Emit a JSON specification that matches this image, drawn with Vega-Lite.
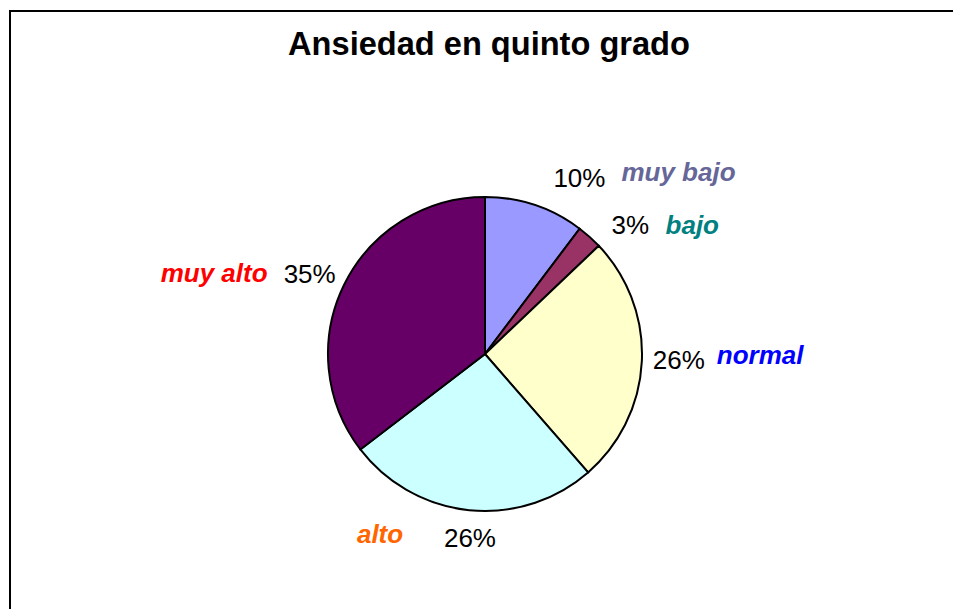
{
  "$schema": "https://vega.github.io/schema/vega-lite/v6.json",
  "width": 950,
  "height": 686,
  "autosize": {"type": "none"},
  "padding": {"left": 10, "top": 11, "right": -7, "bottom": -88},
  "view": {"stroke": "#000000", "strokeWidth": 2, "fill": "#FFFFFF"},
  "title": {
    "text": "Ansiedad en quinto grado",
    "font": "Liberation Sans",
    "fontSize": 32.6,
    "fontWeight": "bold",
    "color": "#000000",
    "anchor": "middle",
    "frame": "group",
    "baseline": "alphabetic",
    "offset": -77,
    "dx": 4
  },
  "config": {
    "view": {"stroke": "#000000", "strokeWidth": 2},
    "text": {"font": "Liberation Sans"}
  },
  "data": {
    "values": [
      {"categoria": "muy bajo", "porcentaje": 10.3, "etiqueta": "10%", "orden": 1},
      {"categoria": "bajo", "porcentaje": 2.6, "etiqueta": "3%", "orden": 2},
      {"categoria": "normal", "porcentaje": 25.7, "etiqueta": "26%", "orden": 3},
      {"categoria": "alto", "porcentaje": 26.0, "etiqueta": "26%", "orden": 4},
      {"categoria": "muy alto", "porcentaje": 35.4, "etiqueta": "35%", "orden": 5}
    ]
  },
  "encoding": {
    "theta": {"field": "porcentaje", "type": "quantitative", "stack": true},
    "order": {"field": "orden", "type": "quantitative"}
  },
  "layer": [
    {
      "mark": {"type": "arc", "outerRadius": 157, "stroke": "#000000", "strokeWidth": 2},
      "encoding": {
        "color": {
          "field": "categoria",
          "type": "nominal",
          "scale": {
            "domain": ["muy bajo", "bajo", "normal", "alto", "muy alto"],
            "range": ["#9999FF", "#993366", "#FFFFCC", "#CCFFFF", "#660066"]
          },
          "legend": null
        }
      }
    },
    {
      "mark": {"type": "text", "radius": 190, "align": "left", "baseline": "alphabetic", "fontSize": 26, "color": "#000000", "dx": 8, "dy": 13},
      "encoding": {"text": {"condition": {"test": "datum.categoria === 'muy bajo'", "field": "etiqueta"}, "value": ""}}
    },
    {
      "mark": {"type": "text", "radius": 190, "align": "left", "baseline": "alphabetic", "fontSize": 26, "color": "#000000", "dx": 0, "dy": 22},
      "encoding": {"text": {"condition": {"test": "datum.categoria === 'bajo'", "field": "etiqueta"}, "value": ""}}
    },
    {
      "mark": {"type": "text", "radius": 190, "align": "left", "baseline": "alphabetic", "fontSize": 26, "color": "#000000", "dx": -22, "dy": 6},
      "encoding": {"text": {"condition": {"test": "datum.categoria === 'normal'", "field": "etiqueta"}, "value": ""}}
    },
    {
      "mark": {"type": "text", "radius": 190, "align": "left", "baseline": "alphabetic", "fontSize": 26, "color": "#000000", "dx": -22, "dy": 4},
      "encoding": {"text": {"condition": {"test": "datum.categoria === 'alto'", "field": "etiqueta"}, "value": ""}}
    },
    {
      "mark": {"type": "text", "radius": 190, "align": "left", "baseline": "alphabetic", "fontSize": 26, "color": "#000000", "dx": -31, "dy": 13},
      "encoding": {"text": {"condition": {"test": "datum.categoria === 'muy alto'", "field": "etiqueta"}, "value": ""}}
    },
    {
      "mark": {"type": "text", "radius": 190, "align": "left", "baseline": "alphabetic", "fontSize": 26, "fontWeight": "bold", "fontStyle": "italic", "color": "#666699", "dx": 76, "dy": 7},
      "encoding": {"text": {"condition": {"test": "datum.categoria === 'muy bajo'", "field": "categoria"}, "value": ""}}
    },
    {
      "mark": {"type": "text", "radius": 190, "align": "left", "baseline": "alphabetic", "fontSize": 26, "fontWeight": "bold", "fontStyle": "italic", "color": "#008080", "dx": 54, "dy": 22},
      "encoding": {"text": {"condition": {"test": "datum.categoria === 'bajo'", "field": "categoria"}, "value": ""}}
    },
    {
      "mark": {"type": "text", "radius": 190, "align": "left", "baseline": "alphabetic", "fontSize": 26, "fontWeight": "bold", "fontStyle": "italic", "color": "#0000FF", "dx": 42, "dy": 1},
      "encoding": {"text": {"condition": {"test": "datum.categoria === 'normal'", "field": "categoria"}, "value": ""}}
    },
    {
      "mark": {"type": "text", "radius": 190, "align": "left", "baseline": "alphabetic", "fontSize": 26, "fontWeight": "bold", "fontStyle": "italic", "color": "#FF6600", "dx": -109, "dy": 0},
      "encoding": {"text": {"condition": {"test": "datum.categoria === 'alto'", "field": "categoria"}, "value": ""}}
    },
    {
      "mark": {"type": "text", "radius": 190, "align": "left", "baseline": "alphabetic", "fontSize": 26, "fontWeight": "bold", "fontStyle": "italic", "color": "#FF0000", "dx": -154, "dy": 12},
      "encoding": {"text": {"condition": {"test": "datum.categoria === 'muy alto'", "field": "categoria"}, "value": ""}}
    }
  ]
}
